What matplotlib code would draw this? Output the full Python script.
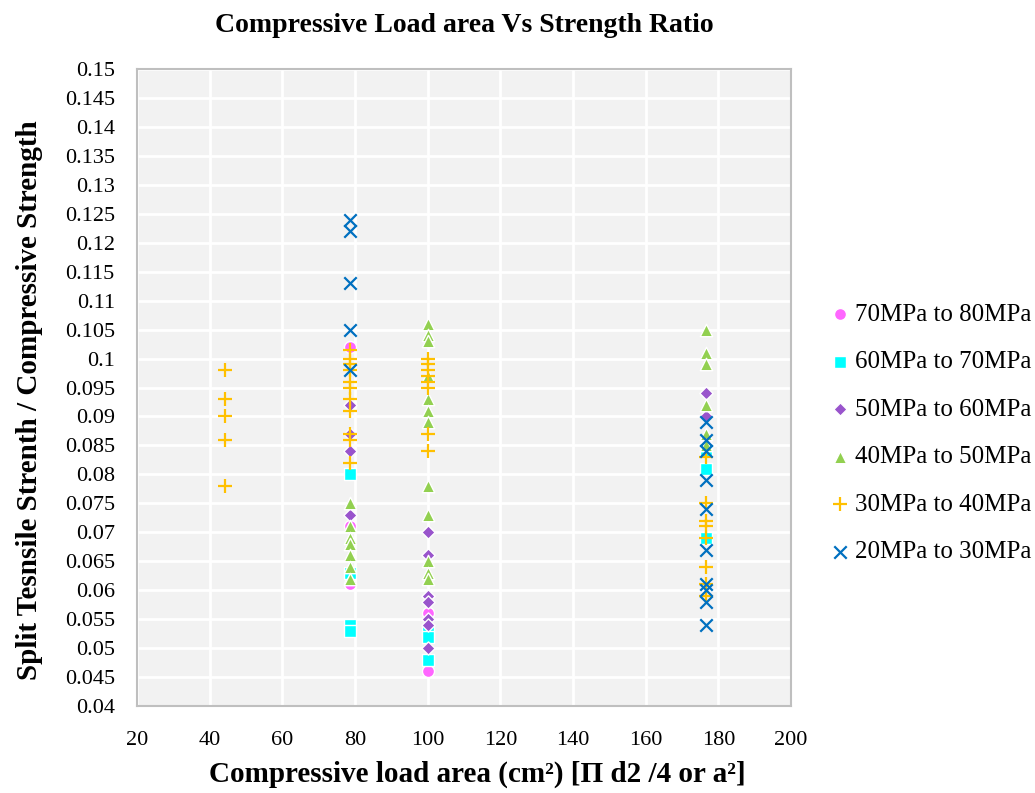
import matplotlib.pyplot as plt

plt.rcParams['font.family'] = ['Liberation Serif', 'DejaVu Serif']

# values (x = load area, y = ratio)
x_70_80 = [78.5, 78.5, 78.5, 100, 100, 176.7]
y_70_80 = [0.102, 0.071, 0.061, 0.056, 0.046, 0.085]

x_60_70 = [78.5, 78.5, 78.5, 78.5, 100, 100, 100, 176.7, 176.7, 176.7]
y_60_70 = [0.080, 0.063, 0.054, 0.053, 0.053, 0.052, 0.048, 0.084, 0.081, 0.069]

x_50_60 = [78.5, 78.5, 78.5, 78.5, 100, 100, 100, 100, 100, 100, 100, 176.7, 176.7, 176.7]
y_50_60 = [0.092, 0.087, 0.084, 0.073, 0.070, 0.066, 0.059, 0.058, 0.055, 0.054, 0.050,
           0.094, 0.090, 0.085]

x_40_50 = [78.5] * 7 + [100] * 12 + [176.7] * 6
y_40_50 = [0.075, 0.071, 0.069, 0.068, 0.066, 0.064, 0.062,
           0.106, 0.104, 0.103, 0.097, 0.093, 0.091, 0.089, 0.078, 0.073, 0.065, 0.063, 0.062,
           0.105, 0.101, 0.099, 0.092, 0.087, 0.085]

x_30_40 = [44.2] * 5 + [78.5] * 11 + [100] * 8 + [176.7] * 8
y_30_40 = [0.098, 0.093, 0.090, 0.086, 0.078,
           0.1015, 0.100, 0.099, 0.098, 0.096, 0.095, 0.093, 0.091, 0.087, 0.086, 0.082,
           0.100, 0.099, 0.098, 0.097, 0.096, 0.095, 0.087, 0.084,
           0.083, 0.075, 0.072, 0.071, 0.069, 0.064, 0.061, 0.059]

x_20_30 = [78.5] * 5 + [176.7] * 10
y_20_30 = [0.124, 0.122, 0.113, 0.105, 0.098,
           0.089, 0.086, 0.084, 0.079, 0.074, 0.067, 0.061, 0.060, 0.058, 0.054]

fig = plt.figure(figsize=(10.35, 7.93), dpi=100)
ax = fig.add_axes([137 / 1035, 1 - 706 / 793, 654 / 1035, 637 / 793])
ax.set_facecolor('#F2F2F2')

ax.scatter(x_70_80, y_70_80, marker='o', s=75, color='#FF66FF', edgecolors='white', linewidths=1, label='70MPa to 80MPa', zorder=3)
ax.scatter(x_60_70, y_60_70, marker='s', s=75, color='#00FFFF', edgecolors='white', linewidths=1, label='60MPa to 70MPa', zorder=3)
ax.scatter(x_50_60, y_50_60, marker='D', s=45, color='#9954CC', edgecolors='white', linewidths=1, label='50MPa to 60MPa', zorder=3)
ax.scatter(x_40_50, y_40_50, marker='^', s=80, color='#92D050', edgecolors='white', linewidths=1, label='40MPa to 50MPa', zorder=3)
ax.scatter(x_30_40, y_30_40, marker='+', s=110, color='#FFC000', linewidths=1.6, label='30MPa to 40MPa', zorder=3)
ax.scatter(x_20_30, y_20_30, marker='x', s=80, color='#0070C0', linewidths=1.6, label='20MPa to 30MPa', zorder=3)

ax.set_xlim(20, 200)
ax.set_ylim(0.04, 0.15)
ax.set_xticks(range(20, 201, 20))
yt = [0.04 + 0.005 * i for i in range(23)]
ax.set_yticks(yt)
ax.set_yticklabels(['%g' % round(v, 3) for v in yt])
ax.grid(True, color='white', linewidth=2)
ax.set_axisbelow(True)
for s in ax.spines.values():
    s.set_color('#BFBFBF')
    s.set_linewidth(1.5)
ax.tick_params(axis='y', length=0, labelsize=16, pad=16)
ax.tick_params(axis='x', length=0, labelsize=16, pad=18)

ax.set_title('Compressive Load area Vs Strength Ratio', fontsize=20, fontweight='bold', pad=27)
ax.set_xlabel('Compressive load area (cm\u00b2) [\u03a0 d2 /4 or a\u00b2]', fontsize=21, fontweight='bold')
ax.set_ylabel('Split Tesnsile Strenth / Compressive Strength', fontsize=21, fontweight='bold')
ax.xaxis.set_label_coords(0.52, -0.086)
ax.yaxis.set_label_coords(-0.143, 0.48)

ax.legend(loc='center left', bbox_to_anchor=(1.04, 0.428), frameon=False, fontsize=18,
          handletextpad=0.1, labelspacing=1.0, markerscale=1.0, borderaxespad=0, handlelength=1.0)

plt.savefig('out.png')
